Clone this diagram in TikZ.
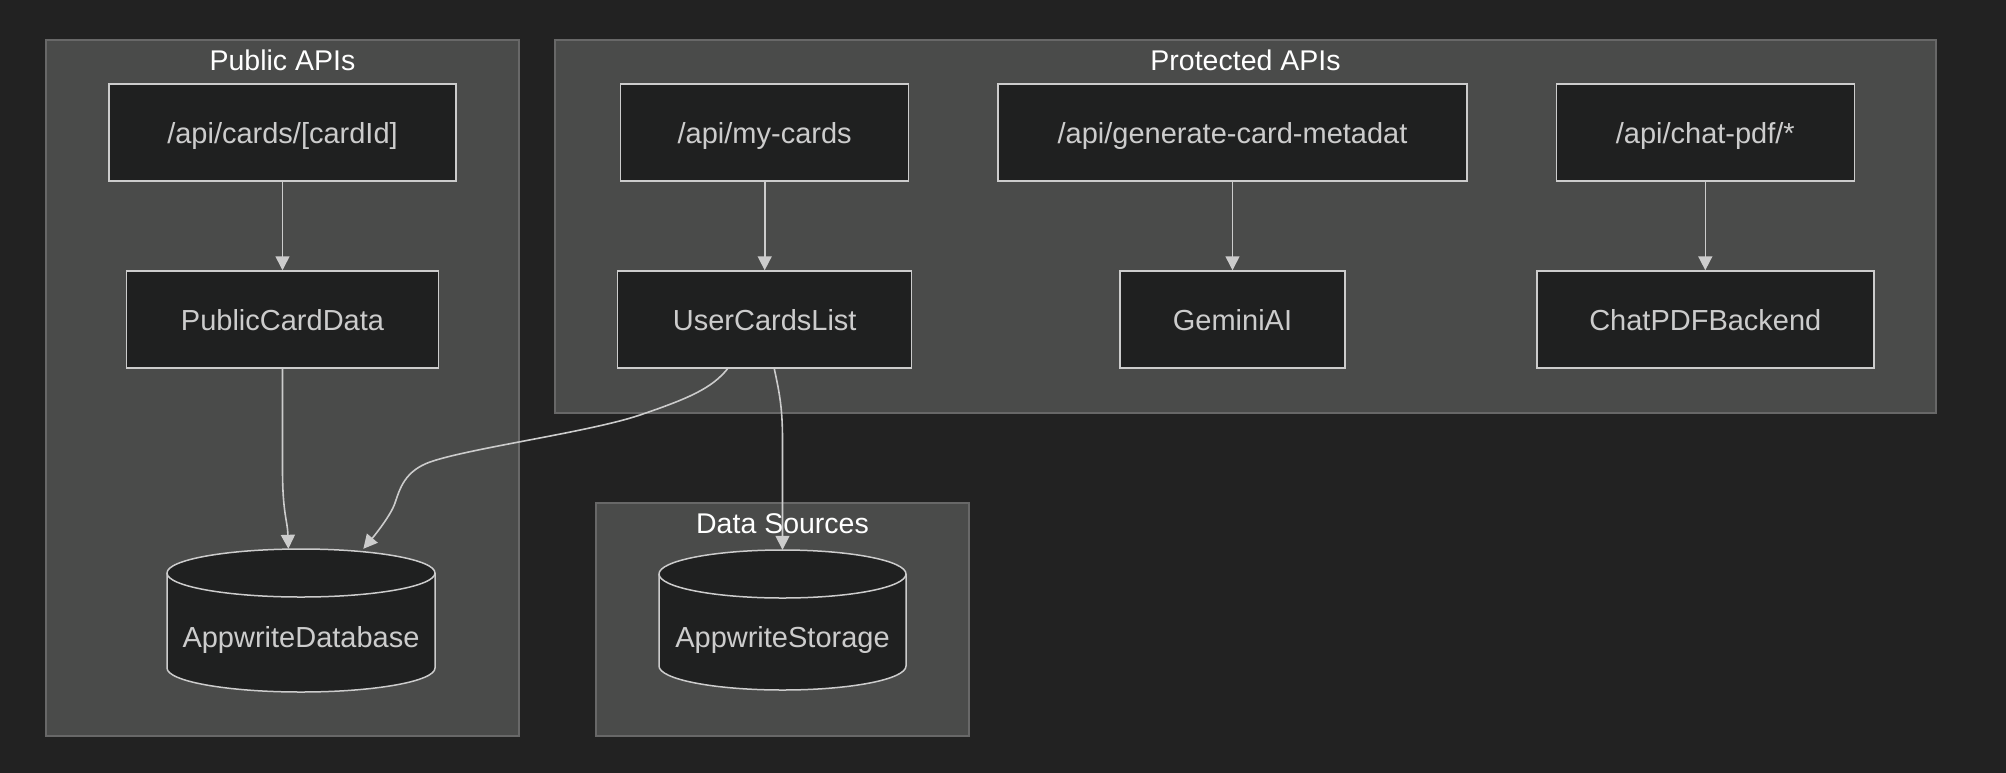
\documentclass[tikz,border=0pt]{standalone}
\usepackage{fontspec}
\setmainfont{Liberation Sans}
\usetikzlibrary{arrows.meta,calc}
\definecolor{bgc}{HTML}{222222}
\definecolor{clfill}{HTML}{4A4B4A}
\definecolor{cldraw}{HTML}{686868}
\definecolor{ndfill}{HTML}{1F2020}
\definecolor{nddraw}{HTML}{CCCCCC}
\definecolor{ndtext}{HTML}{CCCCCC}
\definecolor{edgec}{HTML}{CCCCCC}
\begin{document}
\begin{tikzpicture}[x=1pt,y=1pt,
  cluster/.style={draw=cldraw, fill=clfill, line width=1.5pt, inner sep=0pt},
  cltitle/.style={text=white, font=\fontsize{28.5}{34}\selectfont, inner sep=0pt},
  box/.style={draw=nddraw, fill=ndfill, line width=1.5pt, text=ndtext,
    font=\fontsize{29}{35}\selectfont, minimum height=97pt, inner sep=0pt,
    text height=21pt, text depth=0pt},
  cylarea/.style={inner sep=0pt},
  cyl/.style={draw=nddraw, fill=ndfill, line width=1.5pt},
  cyltext/.style={text=ndtext, font=\fontsize{29}{35}\selectfont, inner sep=0pt, anchor=base},
  conn/.style={draw=edgec, line width=1.6pt, -{Triangle[length=14pt,width=14pt]}}
]
\useasboundingbox (0,0) rectangle (2006,-772);
\fill[bgc] (-10,10) rectangle (2016,-782);

% clusters
\node[cluster, minimum width=473pt, minimum height=696pt] (pubcl) at (282.5,-388) {};
\node[cluster, minimum width=1381pt, minimum height=373pt] (procl) at (1245.5,-226.5) {};
\node[cluster, minimum width=373pt, minimum height=233pt] (dscl) at (782.5,-619.5) {};
\node[cltitle] (pubt) at (282.5,-60) {Public APIs};
\node[cltitle] (prot) at (1245.5,-60) {Protected APIs};
\node[cltitle] (dst) at (782.5,-524) {Data Sources};

% boxes
\node[box, minimum width=347pt] (n1) at (282.5,-132.5) {/api/cards/[cardId]};
\node[box, minimum width=312pt] (pcd) at (282.5,-319.5) {PublicCardData};
\node[box, minimum width=288pt] (mc) at (764.7,-132.5) {/api/my-cards};
\node[box, minimum width=294pt] (ucl) at (764.7,-319.5) {UserCardsList};
\node[box, minimum width=469pt] (gen) at (1232.5,-132.5) {/api/generate-card-metadat};
\node[box, minimum width=225pt] (gem) at (1232.5,-319.5) {GeminiAI};
\node[box, minimum width=298pt] (chat) at (1705.3,-132.5) {/api/chat-pdf/*};
\node[box, minimum width=337pt] (cpb) at (1705.3,-319.5) {ChatPDFBackend};

% cylinders
\node[cylarea, minimum width=268pt, minimum height=143pt] (db) at (301,-620.5) {};
\filldraw[cyl] (167,-573) -- (167,-668) arc[start angle=180,end angle=360,x radius=134pt,y radius=24pt]
  -- (435,-573) arc[start angle=0,end angle=180,x radius=134pt,y radius=24pt] -- cycle;
\draw[cyl, fill=none] (167,-573) arc[start angle=180,end angle=360,x radius=134pt,y radius=24pt];
\node[cyltext] (dbl) at (301,-647) {AppwriteDatabase};

\node[cylarea, minimum width=247pt, minimum height=140pt] (st) at (782.5,-620) {};
\filldraw[cyl] (659,-574) -- (659,-666) arc[start angle=180,end angle=360,x radius=123.5pt,y radius=24pt]
  -- (906,-574) arc[start angle=0,end angle=180,x radius=123.5pt,y radius=24pt] -- cycle;
\draw[cyl, fill=none] (659,-574) arc[start angle=180,end angle=360,x radius=123.5pt,y radius=24pt];
\node[cyltext] (stl) at (782.5,-647) {AppwriteStorage};

% connectors
\draw[conn] (n1.south) -- (pcd.north);
\draw[conn] (mc.south) -- (ucl.north);
\draw[conn] (gen.south) -- (gem.north);
\draw[conn] (chat.south) -- (cpb.north);
\draw[conn] (pcd.south) -- ++(0,-100) .. controls +(0,-45) and (287.5,-520) .. (db.100);
\draw[conn] (ucl.233) .. controls (712,-388) and (690,-398) .. (640,-415)
  .. controls (590,-432) and (470,-448) .. (430,-462)
  .. controls (405,-471) and (400,-488) .. (395,-503)
  .. controls (391,-515) and (375,-535) .. (db.49);
\draw[conn] (ucl.281) .. controls (780,-395) and (782.5,-410) .. (782.5,-440) -- (st.north);
\end{tikzpicture}
\end{document}
